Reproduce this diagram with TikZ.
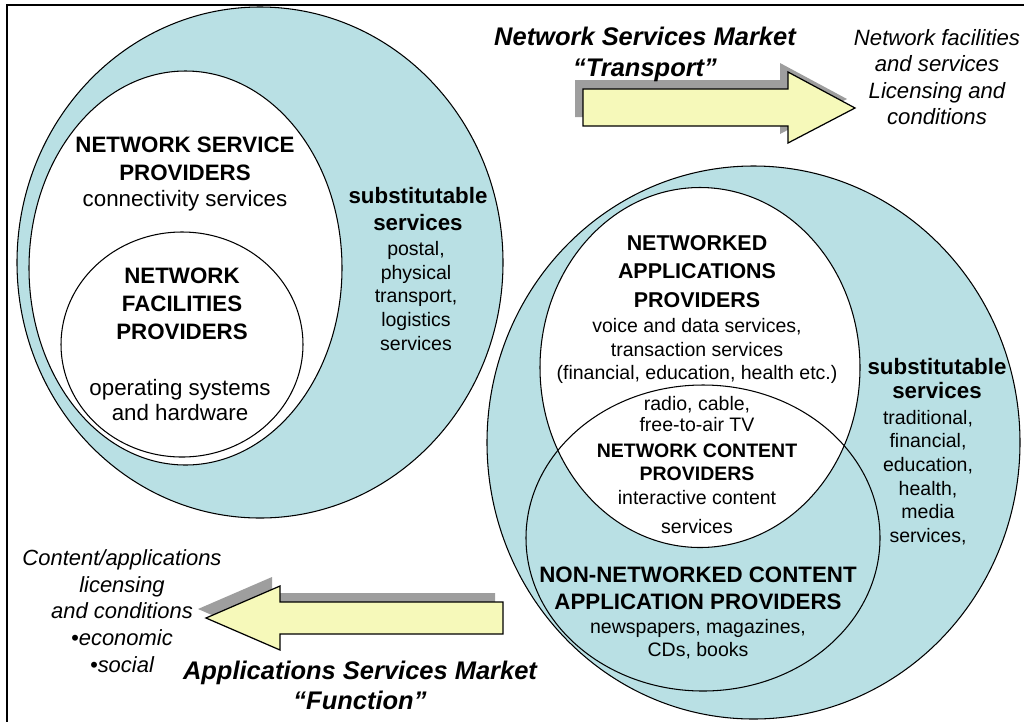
\documentclass[tikz,border=0pt]{standalone}
\usepackage{fontspec}
\setmainfont{Liberation Sans}
\usetikzlibrary{positioning}
\definecolor{sea}{RGB}{185,224,228}
\definecolor{pale}{RGB}{246,249,186}
\definecolor{shade}{RGB}{158,158,158}

\tikzset{
  hdr/.style={font=\bfseries\fontsize{12.7}{15.9}\selectfont,align=center,inner sep=0pt},
  txt/.style={font=\fontsize{12.7}{13.6}\selectfont,align=center,inner sep=0pt},
  lst/.style={font=\fontsize{11.1}{13.5}\selectfont,align=center,inner sep=0pt},
  market/.style={font=\bfseries\itshape\fontsize{14.5}{17.6}\selectfont,align=center,inner sep=0pt},
  note/.style={font=\itshape\fontsize{12.5}{15.2}\selectfont,align=center,inner sep=0pt},
  zone/.style={draw,line width=0.6pt,fill=sea},
  hole/.style={draw,line width=0.6pt,fill=white},
  fat/.style={draw,line width=0.7pt,fill=pale},
  dark/.style={fill=shade}
}

\begin{document}
\begin{tikzpicture}[x=0.02cm,y=-0.02cm]
  \useasboundingbox (0,0) rectangle (1024,721);
  % frame, cut at right and bottom
  \draw[line width=1.1pt] (7,5) rectangle (1060,760);

  % network side
  \draw[zone] (260,262.5) ellipse [x radius=243,y radius=255.5];
  \draw[hole] (185.5,268) ellipse [x radius=156.5,y radius=197];
  \draw[hole] (182,344.5) ellipse [x radius=121,y radius=112.5];

  % applications side
  \draw[zone] (753.5,442.5) ellipse [x radius=266.5,y radius=276.5];
  \draw[hole] (700,367.5) ellipse [x radius=160,y radius=180];
  \draw[line width=0.6pt] (703,538) ellipse [x radius=177,y radius=153];

  % market arrows
  \begin{scope}[shift={(-8,-9)}]
    \fill[dark] (583,89) -- (788,89) -- (788,72) -- (855,108) -- (788,143) -- (788,126) -- (583,126) -- cycle;
    \fill[dark] (503,602) -- (280,602) -- (280,586) -- (206,618) -- (280,650) -- (280,634) -- (503,634) -- cycle;
  \end{scope}
  \draw[fat] (583,89) -- (788,89) -- (788,72) -- (855,108) -- (788,143) -- (788,126) -- (583,126) -- cycle;
  \draw[fat] (503,602) -- (280,602) -- (280,586) -- (206,618) -- (280,650) -- (280,634) -- (503,634) -- cycle;

  % left labels
  \node[hdr] (nsp) at (185,159) {NETWORK SERVICE\\PROVIDERS};
  \node[txt] (nspx) at (185,201) {connectivity services};
  \node[hdr] (nfp) at (182,304) {NETWORK\\FACILITIES\\PROVIDERS};
  \node[txt,font=\fontsize{12.7}{14.7}\selectfont] (nfpx) at (180,400) {operating systems\\and hardware};
  \node[hdr] (subn) at (418,209) {substitutable\\services};
  \node[lst] (subnx) at (416,296) {postal,\\physical\\transport,\\logistics\\services};

  % right labels
  \node[hdr,font=\bfseries\fontsize{12.2}{16.2}\selectfont] (nap) at (697,271.5) {NETWORKED\\APPLICATIONS\\PROVIDERS};
  \node[lst] (napx) at (697,351) {voice and data services,\\transaction services\\(financial, education, health etc.)};
  \node[lst,font=\fontsize{11.1}{12.5}\selectfont] (bcast) at (697,414) {radio, cable,\\free-to-air TV};
  \node[hdr,font=\bfseries\fontsize{11.1}{13}\selectfont] (ncp) at (697,462.5) {NETWORK CONTENT\\PROVIDERS};
  \node[lst,font=\fontsize{11.1}{17}\selectfont] (ncpx) at (697,512) {interactive content\\services};
  \node[hdr,font=\bfseries\fontsize{12.7}{15.3}\selectfont] (nnc) at (698,588.5) {NON-NETWORKED CONTENT\\APPLICATION PROVIDERS};
  \node[lst,font=\fontsize{11.1}{13}\selectfont] (nncx) at (698,639.5) {newspapers, magazines,\\CDs, books};
  \node[hdr,font=\bfseries\fontsize{12.7}{14.2}\selectfont] (suba) at (937,378.5) {substitutable\\services};
  \node[lst] (subax) at (928,477.5) {traditional,\\financial,\\education,\\health,\\media\\services,};

  % markets
  \node[market] (nsm) at (645,54) {Network Services Market\\``Transport''};
  \node[note,font=\itshape\fontsize{12.6}{15.1}\selectfont] (nfs) at (937,77) {Network facilities\\and services\\Licensing and\\conditions};
  \node[market,font=\bfseries\itshape\fontsize{14.5}{17}\selectfont] (asm) at (360,685) {Applications Services Market\\``Function''};
  \node[note] (cal) at (122,611) {Content/applications\\licensing\\and conditions\\\textbullet economic\\\textbullet social};
\end{tikzpicture}
\end{document}
